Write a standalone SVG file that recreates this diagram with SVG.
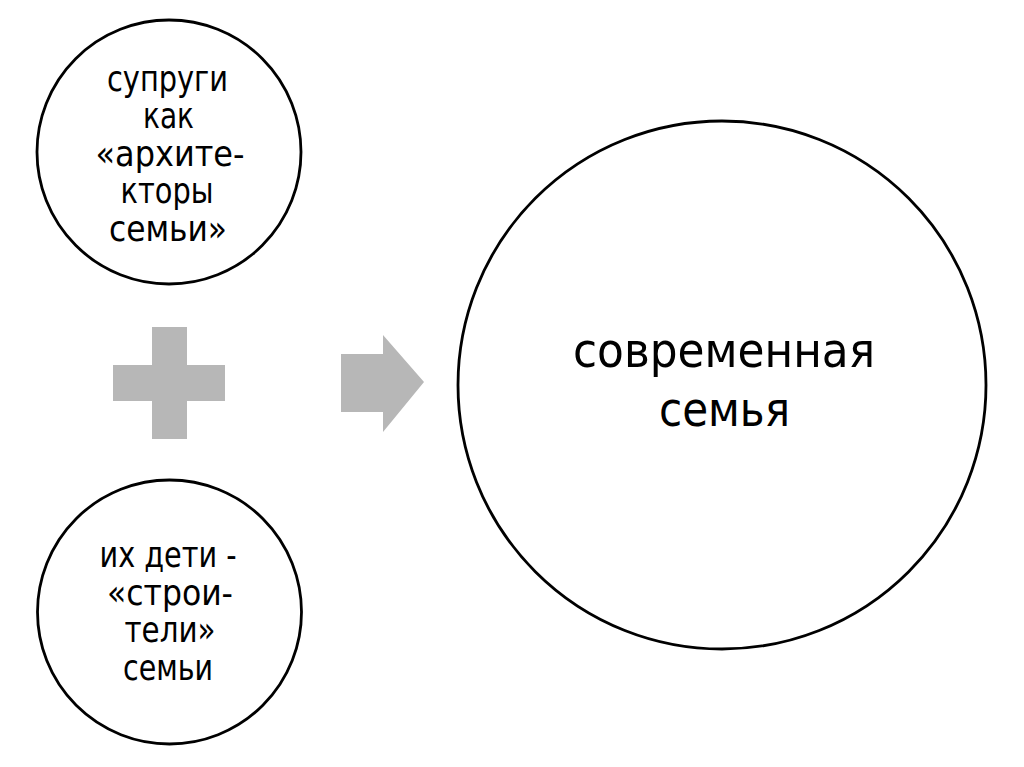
<svg xmlns="http://www.w3.org/2000/svg" width="1024" height="767" viewBox="0 0 1024 767">
<style>
.c{fill:#fff;stroke:#000;stroke-width:2.8}
.t{font-family:'DejaVu Sans Condensed','DejaVu Sans',sans-serif;font-size:35px;fill:#000;text-anchor:middle}
.b{font-size:48px}
.g{fill:#b7b7b7}
</style>
<rect width="1024" height="767" fill="#fff"/>
<g id="node-spouses">
<circle class="c" cx="169" cy="152" r="132"/>
<text class="t"><tspan x="167.5" y="91" textLength="121" lengthAdjust="spacingAndGlyphs">супруги</tspan><tspan x="168.5" y="128" textLength="51" lengthAdjust="spacingAndGlyphs">как</tspan><tspan x="170" y="166" textLength="149" lengthAdjust="spacingAndGlyphs">«архите-</tspan><tspan x="167" y="203" textLength="93" lengthAdjust="spacingAndGlyphs">кторы</tspan><tspan x="168" y="241" textLength="118" lengthAdjust="spacingAndGlyphs">семьи»</tspan></text>
</g>
<g id="node-children">
<circle class="c" cx="169.5" cy="612" r="132"/>
<text class="t"><tspan x="168" y="567" textLength="137" lengthAdjust="spacingAndGlyphs">их дети -</tspan><tspan x="170" y="605" textLength="126" lengthAdjust="spacingAndGlyphs">«строи-</tspan><tspan x="170" y="642" textLength="91" lengthAdjust="spacingAndGlyphs">тели»</tspan><tspan x="168" y="680" textLength="90" lengthAdjust="spacingAndGlyphs">семьи</tspan></text>
</g>
<g id="node-family">
<circle class="c" cx="722" cy="385" r="264"/>
<text class="t b"><tspan x="724" y="367" textLength="302" lengthAdjust="spacingAndGlyphs">современная</tspan><tspan x="724.5" y="426" textLength="131" lengthAdjust="spacingAndGlyphs">семья</tspan></text>
</g>
<g id="connectors">
<path id="plus" class="g" d="M152 327H187V365H225V401H187V439H152V401H113V365H152Z"/>
<path id="arrow" class="g" d="M341 354H383V335L424 382L383 432V412H341Z"/>
</g>
</svg>
